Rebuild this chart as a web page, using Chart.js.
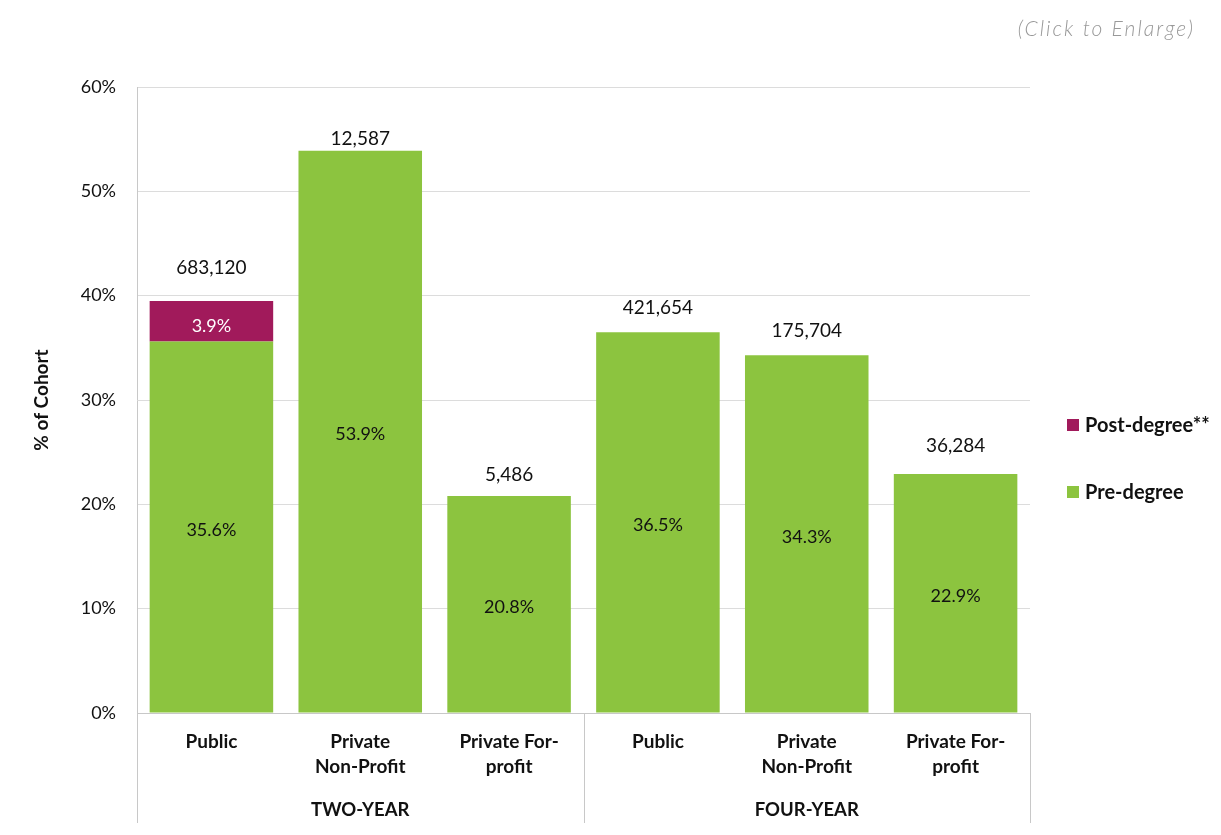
<!DOCTYPE html>
<html>
<head>
<meta charset="utf-8">
<script src="https://cdn.jsdelivr.net/npm/chart.js@4"></script>
<style>
  body { margin: 0; background: #fff; }
  #wrap { position: relative; width: 1221px; height: 835px; }
</style>
</head>
<body>
<div id="wrap"><canvas id="cohortChart"></canvas></div>
<script>
// data
const categories = [
  "Public",
  ["Private", "Non-Profit"],
  ["Private For-", "profit"],
  "Public",
  ["Private", "Non-Profit"],
  ["Private For-", "profit"],
];
const groups = ["TWO-YEAR", "FOUR-YEAR"];
const preDegree = [35.6, 53.9, 20.8, 36.5, 34.3, 22.9];
const postDegree = [3.9, 0, 0, 0, 0, 0];
const cohortSize = ["683,120", "12,587", "5,486", "421,654", "175,704", "36,284"];
const yTicks = [0, 10, 20, 30, 40, 50, 60];

// how far the cohort size sits above each bar (px)
const labelLift = [33, 12, 21, 24, 24, 28];

const FONT = "Lato, 'Open Sans', sans-serif";
const GREEN = "#8cc43f";
const PLUM = "#a11a5b";

const extrasPlugin = {
  id: "extras",
  afterDatasetsDraw(chart) {
    const ctx = chart.ctx;
    const area = chart.chartArea;
    const x = chart.scales.x;
    const metaPre = chart.getDatasetMeta(0);
    const metaPost = chart.getDatasetMeta(1);

    ctx.save();
    ctx.textAlign = "center";
    ctx.textBaseline = "middle";

    // values inside the bars
    ctx.font = "18px " + FONT;
    metaPre.data.forEach((bar, i) => {
      ctx.fillStyle = "#111";
      ctx.fillText(preDegree[i].toFixed(1) + "%", bar.x, (bar.y + bar.base) / 2 + 3);
    });
    metaPost.data.forEach((bar, i) => {
      if (postDegree[i] > 0) {
        ctx.fillStyle = "#fff";
        ctx.fillText(postDegree[i].toFixed(1) + "%", bar.x, (bar.y + bar.base) / 2 + 5);
      }
    });

    // cohort size above each stack
    ctx.fillStyle = "#111";
    ctx.font = "19px " + FONT;
    metaPre.data.forEach((bar, i) => {
      const top = postDegree[i] > 0 ? metaPost.data[i].y : bar.y;
      ctx.fillText(cohortSize[i], bar.x, top - labelLift[i]);
    });

    // group separators and group names
    const half = (x.getPixelForValue(1) - x.getPixelForValue(0)) / 2;
    const sepX = [area.left, x.getPixelForValue(2) + half, area.right];
    ctx.strokeStyle = "#c8c8c8";
    ctx.lineWidth = 1;
    sepX.forEach((sx) => {
      ctx.beginPath();
      ctx.moveTo(Math.round(sx) + 0.5, area.bottom);
      ctx.lineTo(Math.round(sx) + 0.5, 823);
      ctx.stroke();
    });
    ctx.font = "bold 18.5px " + FONT;
    ctx.fillStyle = "#111";
    groups.forEach((g, k) => {
      ctx.fillText(g, (sepX[k] + sepX[k + 1]) / 2, 810);
    });

    // legend
    const legendItems = [
      { label: "Post-degree**", color: PLUM, y: 425 },
      { label: "Pre-degree", color: GREEN, y: 492 },
    ];
    ctx.textAlign = "left";
    ctx.font = "bold 20px " + FONT;
    legendItems.forEach((item) => {
      ctx.fillStyle = item.color;
      ctx.fillRect(1067, item.y - 6, 12, 12);
      ctx.fillStyle = "#111";
      ctx.fillText(item.label, 1085, item.y + 1);
    });

    // caption
    ctx.textAlign = "right";
    ctx.font = "italic 300 21px " + FONT;
    ctx.letterSpacing = "2px";
    ctx.fillStyle = "#999";
    ctx.fillText("(Click to Enlarge)", 1195, 29);
    ctx.restore();
  },
};

new Chart(document.getElementById("cohortChart"), {
  type: "bar",
  data: {
    labels: categories,
    datasets: [
      {
        label: "Pre-degree",
        data: preDegree,
        backgroundColor: GREEN,
        barPercentage: 0.83,
        categoryPercentage: 1,
      },
      {
        label: "Post-degree**",
        data: postDegree,
        backgroundColor: PLUM,
        barPercentage: 0.83,
        categoryPercentage: 1,
      },
    ],
  },
  options: {
    responsive: true,
    maintainAspectRatio: false,
    animation: false,
    layout: {
      padding: { left: 0, top: 87, right: 191, bottom: 0 },
    },
    plugins: {
      legend: { display: false },
      tooltip: { enabled: false },
    },
    scales: {
      x: {
        stacked: true,
        grid: { display: false },
        border: { display: true, color: "#c8c8c8" },
        ticks: {
          padding: 9,
          color: "#111",
          maxRotation: 0,
          autoSkip: false,
          font: { family: FONT, size: 19, weight: "bold", lineHeight: 1.3 },
        },
        afterFit: (scale) => {
          scale.height = 122;
        },
      },
      y: {
        stacked: true,
        min: 0,
        max: 60,
        afterBuildTicks: (scale) => {
          scale.ticks = yTicks.map((v) => ({ value: v }));
        },
        grid: { color: "#dcdcdc", drawTicks: false },
        border: { display: true, color: "#c8c8c8" },
        ticks: {
          padding: 21,
          color: "#111",
          font: { family: FONT, size: 18 },
          callback: (v) => v + "%",
        },
        title: {
          display: true,
          text: "% of Cohort",
          color: "#111",
          padding: { top: 30, bottom: 0 },
          font: { family: FONT, size: 19, weight: "bold" },
        },
        afterFit: (scale) => {
          scale.width = 137;
        },
      },
    },
  },
  plugins: [extrasPlugin],
});
</script>
</body>
</html>
